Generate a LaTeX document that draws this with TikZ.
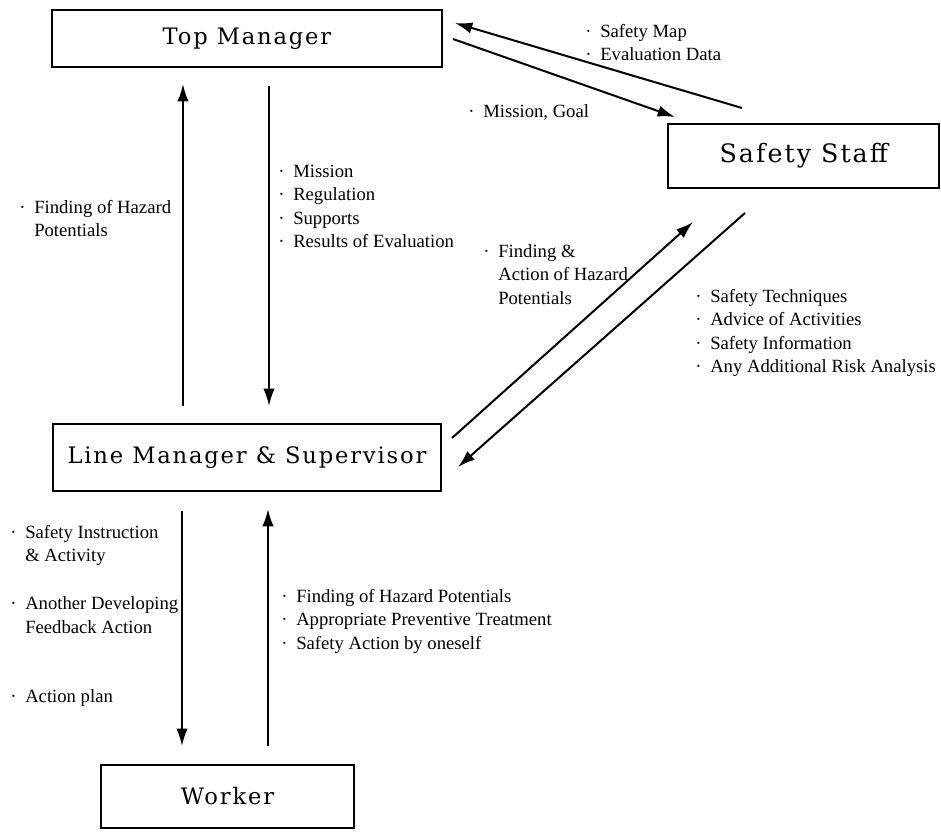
\documentclass[tikz,border=0pt]{standalone}
\usepackage{fontspec}
\setmainfont{Liberation Serif}
\newfontfamily\titlefont[LetterSpace=8]{DejaVu Serif}
\usetikzlibrary{arrows.meta}
\newcommand\bul{\makebox[11.25pt][l]{·}}
\newcommand\ind{\hspace*{11.25pt}}
\begin{document}
\begin{tikzpicture}[x=0.75pt,y=-0.75pt,
  box/.style={draw, line width=1.5pt, inner sep=0pt, font=\titlefont\fontsize{17}{20}\selectfont},
  arr/.style={line width=1.5pt, -{Latex[length=13pt,width=8.5pt]}},
  lbl/.style={anchor=base west, inner sep=0pt, align=left, font=\fontsize{14}{17.5}\selectfont}]
\useasboundingbox (0,0) rectangle (941,831);
% boxes
\node[box, minimum width=292.5pt, minimum height=42.75pt] (top) at (247,38.5) {Top Manager};
\node[box, minimum width=203.6pt, minimum height=48pt, font=\titlefont\fontsize{19}{22}\selectfont] (safe) at (803.75,156) {Safety Staff};
\node[box, minimum width=291pt, minimum height=50.25pt] (line) at (247,457.5) {Line Manager \& Supervisor};
\node[box, minimum width=189.75pt, minimum height=47.25pt] (worker) at (227.5,796.5) {Worker};
% vertical connectors
\coordinate (xa) at (183,0);
\coordinate (xb) at (269,0);
\coordinate (xc) at (182,0);
\coordinate (xd) at (268,0);
\draw[arr, shorten <=12.75pt, shorten >=12pt] (line.north -| xa) -- (top.south -| xa);
\draw[arr, shorten <=13.5pt, shorten >=12.75pt] (top.south -| xb) -- (line.north -| xb);
\draw[arr, shorten <=14.25pt, shorten >=13.5pt] (line.south -| xc) -- (worker.north -| xc);
\draw[arr, shorten <=13.5pt, shorten >=12.75pt] (worker.north -| xd) -- (line.south -| xd);
% diagonal connectors
\coordinate (d1s) at (742,108); \coordinate (d1e) at (455,23);
\coordinate (d2s) at (453,39);  \coordinate (d2e) at (675,117);
\coordinate (d3s) at (452,438); \coordinate (d3e) at (693,222);
\coordinate (d4s) at (745,213); \coordinate (d4e) at (458,467);
\draw[arr] (d1s) -- (d1e);
\draw[arr] (d2s) -- (d2e);
\draw[arr] (d3s) -- (d3e);
\draw[arr] (d4s) -- (d4e);
% labels (anchored at the baseline of the last line)
\node[lbl] (l1) at (585,60.8) {\bul Safety Map\\\bul Evaluation Data};
\node[lbl] (l2) at (468,117.5) {\bul Mission, Goal};
\node[lbl] (l3) at (19,236.8) {\bul Finding of Hazard\\\ind Potentials};
\node[lbl] (l4) at (278,247.5) {\bul Mission\\\bul Regulation\\\bul Supports\\\bul Results of Evaluation};
\node[lbl] (l5) at (483,304.2) {\bul Finding \&\\\ind Action of Hazard\\\ind Potentials};
\node[lbl] (l6) at (695,372.5) {\bul Safety Techniques\\\bul Advice of Activities\\\bul Safety Information\\\bul Any Additional Risk Analysis};
\node[lbl] (l7) at (10,561.8) {\bul Safety Instruction\\\ind \& Activity};
\node[lbl] (l8) at (10,633.3) {\bul Another Developing\\\ind Feedback Action};
\node[lbl] (l9) at (10,702.5) {\bul Action plan};
\node[lbl] (l10) at (281,649.2) {\bul Finding of Hazard Potentials\\\bul Appropriate Preventive Treatment\\\bul Safety Action by oneself};
\end{tikzpicture}
\end{document}
